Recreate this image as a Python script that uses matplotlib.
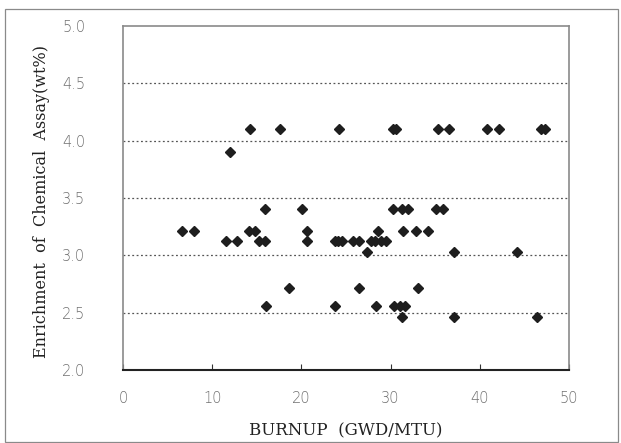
import matplotlib
matplotlib.use("Agg")
import matplotlib.pyplot as plt
from matplotlib.patches import Rectangle

# Data: (burnup, enrichment) grouped by enrichment level
x_410 = [14.2, 17.6, 24.25, 30.3, 30.6, 35.3, 36.6, 40.8, 42.1, 46.9, 47.3]
x_390 = [12.0]
x_340 = [15.9, 20.1, 30.3, 31.3, 32.0, 35.1, 35.9]
x_321 = [6.6, 8.0, 14.1, 14.85, 20.6, 28.6, 31.4, 32.8, 34.2]
x_313 = [11.5, 12.8, 15.2, 15.9, 20.6, 23.8, 24.1, 24.5, 25.8, 26.5, 27.8, 28.3, 28.9, 29.5]
x_303 = [27.3, 37.1, 44.2]
x_272 = [18.6, 26.5, 33.1]
x_256 = [16.0, 23.8, 28.4, 30.4, 31.0, 31.6]
x_246 = [31.3, 37.1, 46.4]

levels = [4.10, 3.90, 3.40, 3.21, 3.13, 3.03, 2.72, 2.56, 2.46]
groups = [x_410, x_390, x_340, x_321, x_313, x_303, x_272, x_256, x_246]

burnup = []
enrich = []
for lv, xs in zip(levels, groups):
    burnup += xs
    enrich += [lv] * len(xs)

x_ticks = [0, 10, 20, 30, 40, 50]
y_ticks = [2.0, 2.5, 3.0, 3.5, 4.0, 4.5, 5.0]
grid_levels = [2.5, 3.0, 3.5, 4.0, 4.5]

fig = plt.figure(figsize=(6.21, 4.43), dpi=100)
fig.patches.append(Rectangle((5/621, 1.5/443), 613/621, 433/443, transform=fig.transFigure,
                             fill=False, edgecolor="#8a8a8a", linewidth=0.9))
ax = fig.add_axes([123/621, 1 - 370.3/443, (569 - 123)/621, (370.3 - 25.7)/443])

for g in grid_levels:
    ax.axhline(g, color="#555555", linestyle=(0, (1.5, 2.0)), linewidth=0.9, zorder=1)

ax.plot(burnup, enrich, linestyle="none", marker="D", markersize=5.4,
        color="#1e1e1e", zorder=3)

ax.set_xlim(0, 50)
ax.set_ylim(2.0, 5.0)
ax.set_xticks(x_ticks)
ax.set_yticks(y_ticks)
ax.set_xticklabels([str(t) for t in x_ticks])
ax.set_yticklabels([f"{t:.1f}" for t in y_ticks])

ax.tick_params(axis="x", direction="in", length=4, width=0.8, color="#333333",
               pad=15, labelsize=10.5, labelcolor="#707070")
ax.tick_params(axis="y", length=0, pad=27, labelsize=10.5, labelcolor="#707070")
for lbl in ax.get_xticklabels() + ax.get_yticklabels():
    lbl.set_fontfamily("DejaVu Sans")
    lbl.set_fontweight("light")

for side in ["left", "top", "right"]:
    ax.spines[side].set_color("#8a8a8a")
    ax.spines[side].set_linewidth(1.2)
ax.spines["bottom"].set_color("#222222")
ax.spines["bottom"].set_linewidth(1.5)

ax.set_xlabel("BURNUP  (GWD/MTU)", fontfamily="DejaVu Serif", fontsize=12,
              color="#222222", labelpad=12)
ax.set_ylabel("Enrichment  of  Chemical  Assay(wt%)", fontfamily="DejaVu Serif",
              fontsize=11.5, color="#222222", labelpad=12)
ax.yaxis.set_label_coords((50 - 123) / 446, 0.49)

fig.savefig("out.png", dpi=100)
